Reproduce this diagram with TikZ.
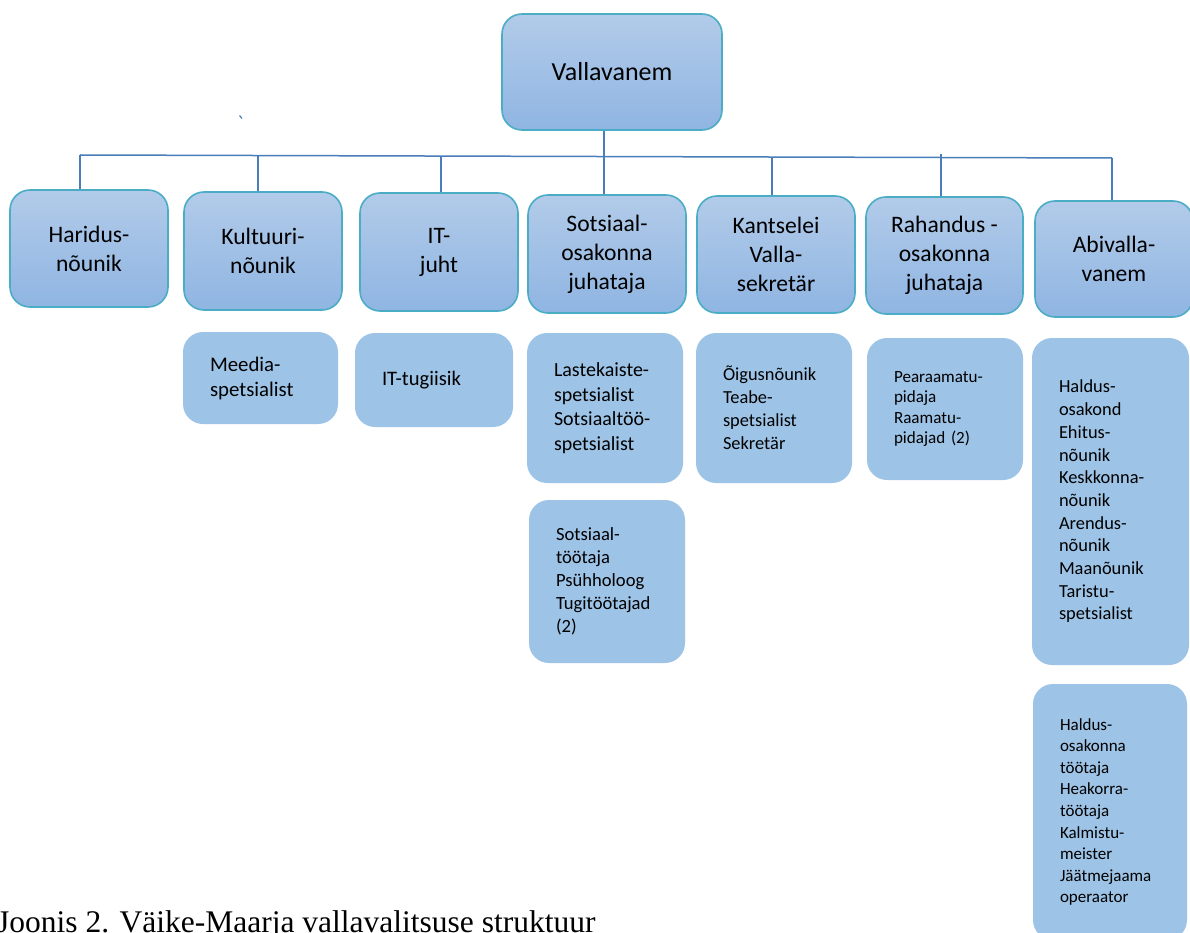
\documentclass[tikz,border=0pt]{standalone}
\usepackage{fontspec}
\setmainfont{Carlito}
\newfontfamily\capserif{Liberation Serif}
\definecolor{topA}{RGB}{178,203,233}
\definecolor{topB}{RGB}{143,181,226}
\definecolor{edgeC}{RGB}{75,172,198}
\definecolor{subC}{RGB}{157,195,230}
\definecolor{lineC}{RGB}{74,126,187}
\newcommand\myfs[2]{\fontsize{#1}{#2}\selectfont}
\hyphenpenalty=10000
\exhyphenpenalty=10000
\tikzset{
  topbox/.style={draw=edgeC, line width=1.6pt, rounded corners=20pt,
    top color=topA, bottom color=topB, align=center, inner sep=0pt,
    minimum width=158pt, minimum height=117pt, font=\myfs{23.6}{29}},
  subbox/.style={fill=subC, rounded corners=20pt, inner xsep=27pt, inner ysep=0pt,
    align=left},
  conn/.style={draw=lineC, line width=1.5pt}
}
\begin{document}
\begin{tikzpicture}[x=1pt,y=-1pt]
\useasboundingbox (0,0) rectangle (1190,933);

% top node
\node[topbox, minimum width=220pt, minimum height=116pt, font=\myfs{26}{31}] (vv) at (612,72) {Vallavanem};

% first row
\node[topbox] (harid) at (89,248.5) {Haridus-\\nõunik};
\node[topbox, minimum height=118pt] (kult) at (263,251) {Kultuuri-\\nõunik};
\node[topbox, minimum height=118pt] (it) at (439,252) {IT-\\juht};
\node[topbox, minimum height=118pt] (sots) at (607,254) {Sotsiaal-\\osakonna\\juhataja};
\node[topbox] (kants) at (776,254.5) {Kantselei\\Valla-\\sekretär};
\node[topbox, minimum width=157pt] (rah) at (944.5,255.5) {Rahandus -\\osakonna\\juhataja};
\node[topbox, minimum height=116pt] (abi) at (1114,259) {Abivalla-\\vanem};

% bar and drops
\coordinate (d1) at (80,155);
\coordinate (d2) at (258,155.5);
\coordinate (d3) at (441,156);
\coordinate (d4) at (604,156.5);
\coordinate (d5) at (772,157);
\coordinate (d6) at (941,157.5);
\coordinate (d7) at (1112,158);
\draw[conn] (d1) -- (d7);
\draw[conn] (d4 |- vv.south) -- (d4 |- sots.north);
\draw[conn] (d1) -- (d1 |- harid.north);
\draw[conn] (d2) -- (d2 |- kult.north);
\draw[conn] (d3) -- (d3 |- it.north);
\draw[conn] (d5) -- (d5 |- kants.north);
\draw[conn] (941,154) -- (d6 |- rah.north);
\draw[conn] (d7) -- (d7 |- abi.north);

% stray mark
\draw[draw=lineC, line width=1.2pt] (239.5,115.5) -- (242,118.5);

% sub boxes
\node[subbox, text width=101pt, minimum height=92pt, font=\myfs{20.8}{25}] (meedia) at (260.5,378) {Meedia-\\spetsialist};
\node[subbox, text width=104pt, minimum height=94pt, font=\myfs{20.6}{25}] (ittug) at (434,380) {IT-tugiisik};
\node[subbox, text width=102pt, minimum height=150pt, font=\myfs{20}{24.5}] (laste) at (605,408) {Lastekaiste-\\spetsialist\\Sotsiaaltöö-\\spetsialist};
\node[subbox, text width=102pt, minimum height=150pt, font=\myfs{18.4}{23}] (oigus) at (774,408) {Õigusnõunik\\Teabe-\\spetsialist\\Sekretär};
\node[subbox, text width=102pt, minimum height=163pt, font=\myfs{18.6}{23}] (sotstoo) at (607,581.5) {Sotsiaal-\\töötaja\\Psühholoog\\Tugitöötajad\\(2)};
\node[subbox, text width=102pt, minimum height=142pt, font=\myfs{17.1}{20.6}] (pear) at (945,409) {Pearaamatu-\\pidaja\\Raamatu-\\pidajad (2)};
\node[subbox, text width=103pt, minimum height=327pt, font=\myfs{18.4}{22.7}] (haldus) at (1110.5,501.5) {Haldus-\\osakond\\Ehitus-\\nõunik\\Keskkonna-\\nõunik\\Arendus-\\nõunik\\Maanõunik\\Taristu-\\spetsialist};
\node[subbox, text width=100pt, minimum height=256pt, font=\myfs{17}{21.6}] (jaatme) at (1110,812) {Haldus-\\osakonna\\töötaja\\Heakorra-\\töötaja\\Kalmistu-\\meister\\Jäätmejaama\\operaator};

% caption
\node[anchor=base west, inner sep=0pt, font=\capserif\myfs{31.5}{36}] (cap) at (-3,932) {Joonis 2. Väike-Maarja vallavalitsuse struktuur};
\end{tikzpicture}
\end{document}
